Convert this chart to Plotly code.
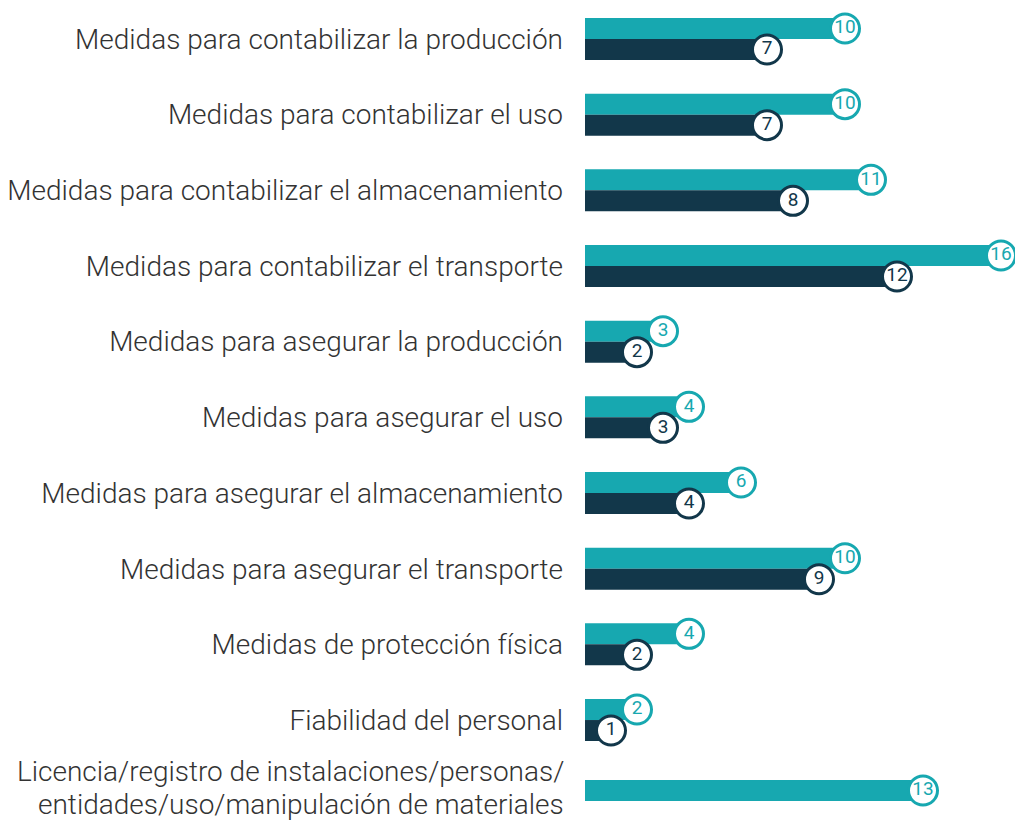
import plotly.graph_objects as go

categories = [
    "Medidas para contabilizar la producción",
    "Medidas para contabilizar el uso",
    "Medidas para contabilizar el almacenamiento",
    "Medidas para contabilizar el transporte",
    "Medidas para asegurar la producción",
    "Medidas para asegurar el uso",
    "Medidas para asegurar el almacenamiento",
    "Medidas para asegurar el transporte",
    "Medidas de protección física",
    "Fiabilidad del personal",
    "Licencia/registro de instalaciones/personas/<br>entidades/uso/manipulación de materiales",
]
series_a = [10, 10, 11, 16, 3, 4, 6, 10, 4, 2, 13]
series_b = [7, 7, 8, 12, 2, 3, 4, 9, 2, 1, None]

TEAL = "#17A8B0"
NAVY = "#12374A"
LABEL = "#333333"
BODY = 8  # default page margin
W, H = 1023 - BODY, 821 - BODY
L, R = 585 - BODY, 10
PX_PER_UNIT = 26.0
ROW = 75.67
FIRST = 39.0 - BODY
BAR_H = 21.0 / ROW
off = BAR_H / 2
STANDOFF = 21
LINE_GAP = 33.0 / ROW
LINE_SHIFT = -2.5 / ROW

pos = list(range(len(categories)))
ya, yb, tick_pos = [], [], []
for i, b in zip(pos, series_b):
    if b is None:
        ya.append(i - off * 0.5)
        tick_pos.append(i - off * 0.5)
    else:
        ya.append(i - off)
        tick_pos.append(i)
    yb.append(i + off)

bx = [v for v in series_b if v is not None]
byy = [y for v, y in zip(series_b, yb) if v is not None]

# multi-line labels are drawn as separate annotation lines (tighter line spacing)
tick_text = []
annotations = []
label_font = dict(family="Roboto", size=28, color=LABEL, weight=300)
for t, p in zip(categories, tick_pos):
    if "<br>" in t:
        tick_text.append("")
        lines = t.split("<br>")
        n = len(lines)
        for k, line in enumerate(lines):
            annotations.append(dict(
                text=line, xref="paper", x=0, xanchor="right", xshift=-STANDOFF + 2,
                yref="y", y=p + LINE_SHIFT + (k - (n - 1) / 2) * LINE_GAP, yanchor="middle",
                showarrow=False, font=label_font))
    else:
        tick_text.append(t)

fig = go.Figure()
fig.add_trace(go.Bar(x=series_a, y=ya, orientation="h", width=BAR_H,
                     marker=dict(color=TEAL, line=dict(width=0)), hoverinfo="skip"))
fig.add_trace(go.Bar(x=bx, y=byy, orientation="h", width=BAR_H,
                     marker=dict(color=NAVY, line=dict(width=0)), hoverinfo="skip"))
fig.add_trace(go.Scatter(x=series_a, y=ya, mode="markers+text", text=[str(v) for v in series_a],
                         textposition="middle center", cliponaxis=False,
                         marker=dict(size=29, color="white", line=dict(color=TEAL, width=3)),
                         textfont=dict(family="Roboto", size=19, color=TEAL, weight=400),
                         hoverinfo="skip"))
fig.add_trace(go.Scatter(x=bx, y=byy, mode="markers+text", text=[str(v) for v in bx],
                         textposition="middle center", cliponaxis=False,
                         marker=dict(size=29, color="white", line=dict(color=NAVY, width=3)),
                         textfont=dict(family="Roboto", size=19, color=NAVY, weight=400),
                         hoverinfo="skip"))

top = -FIRST / ROW
bottom = (H - FIRST) / ROW
fig.update_layout(
    width=W, height=H,
    margin=dict(l=L, r=R, t=0, b=0, pad=0),
    paper_bgcolor="white", plot_bgcolor="white",
    showlegend=False, barmode="overlay",
    font=dict(family="Roboto", size=28, color=LABEL, weight=300),
    annotations=annotations,
)
fig.update_xaxes(range=[0, (W - L - R) / PX_PER_UNIT], visible=False, fixedrange=True)
fig.update_yaxes(range=[bottom, top], tickmode="array", tickvals=tick_pos, ticktext=tick_text,
                 showgrid=False, zeroline=False, showline=False, ticks="",
                 ticklabelstandoff=STANDOFF, ticklabeloverflow="allow",
                 tickfont=label_font,
                 fixedrange=True, automargin=False)

fig.write_html("out.html")
